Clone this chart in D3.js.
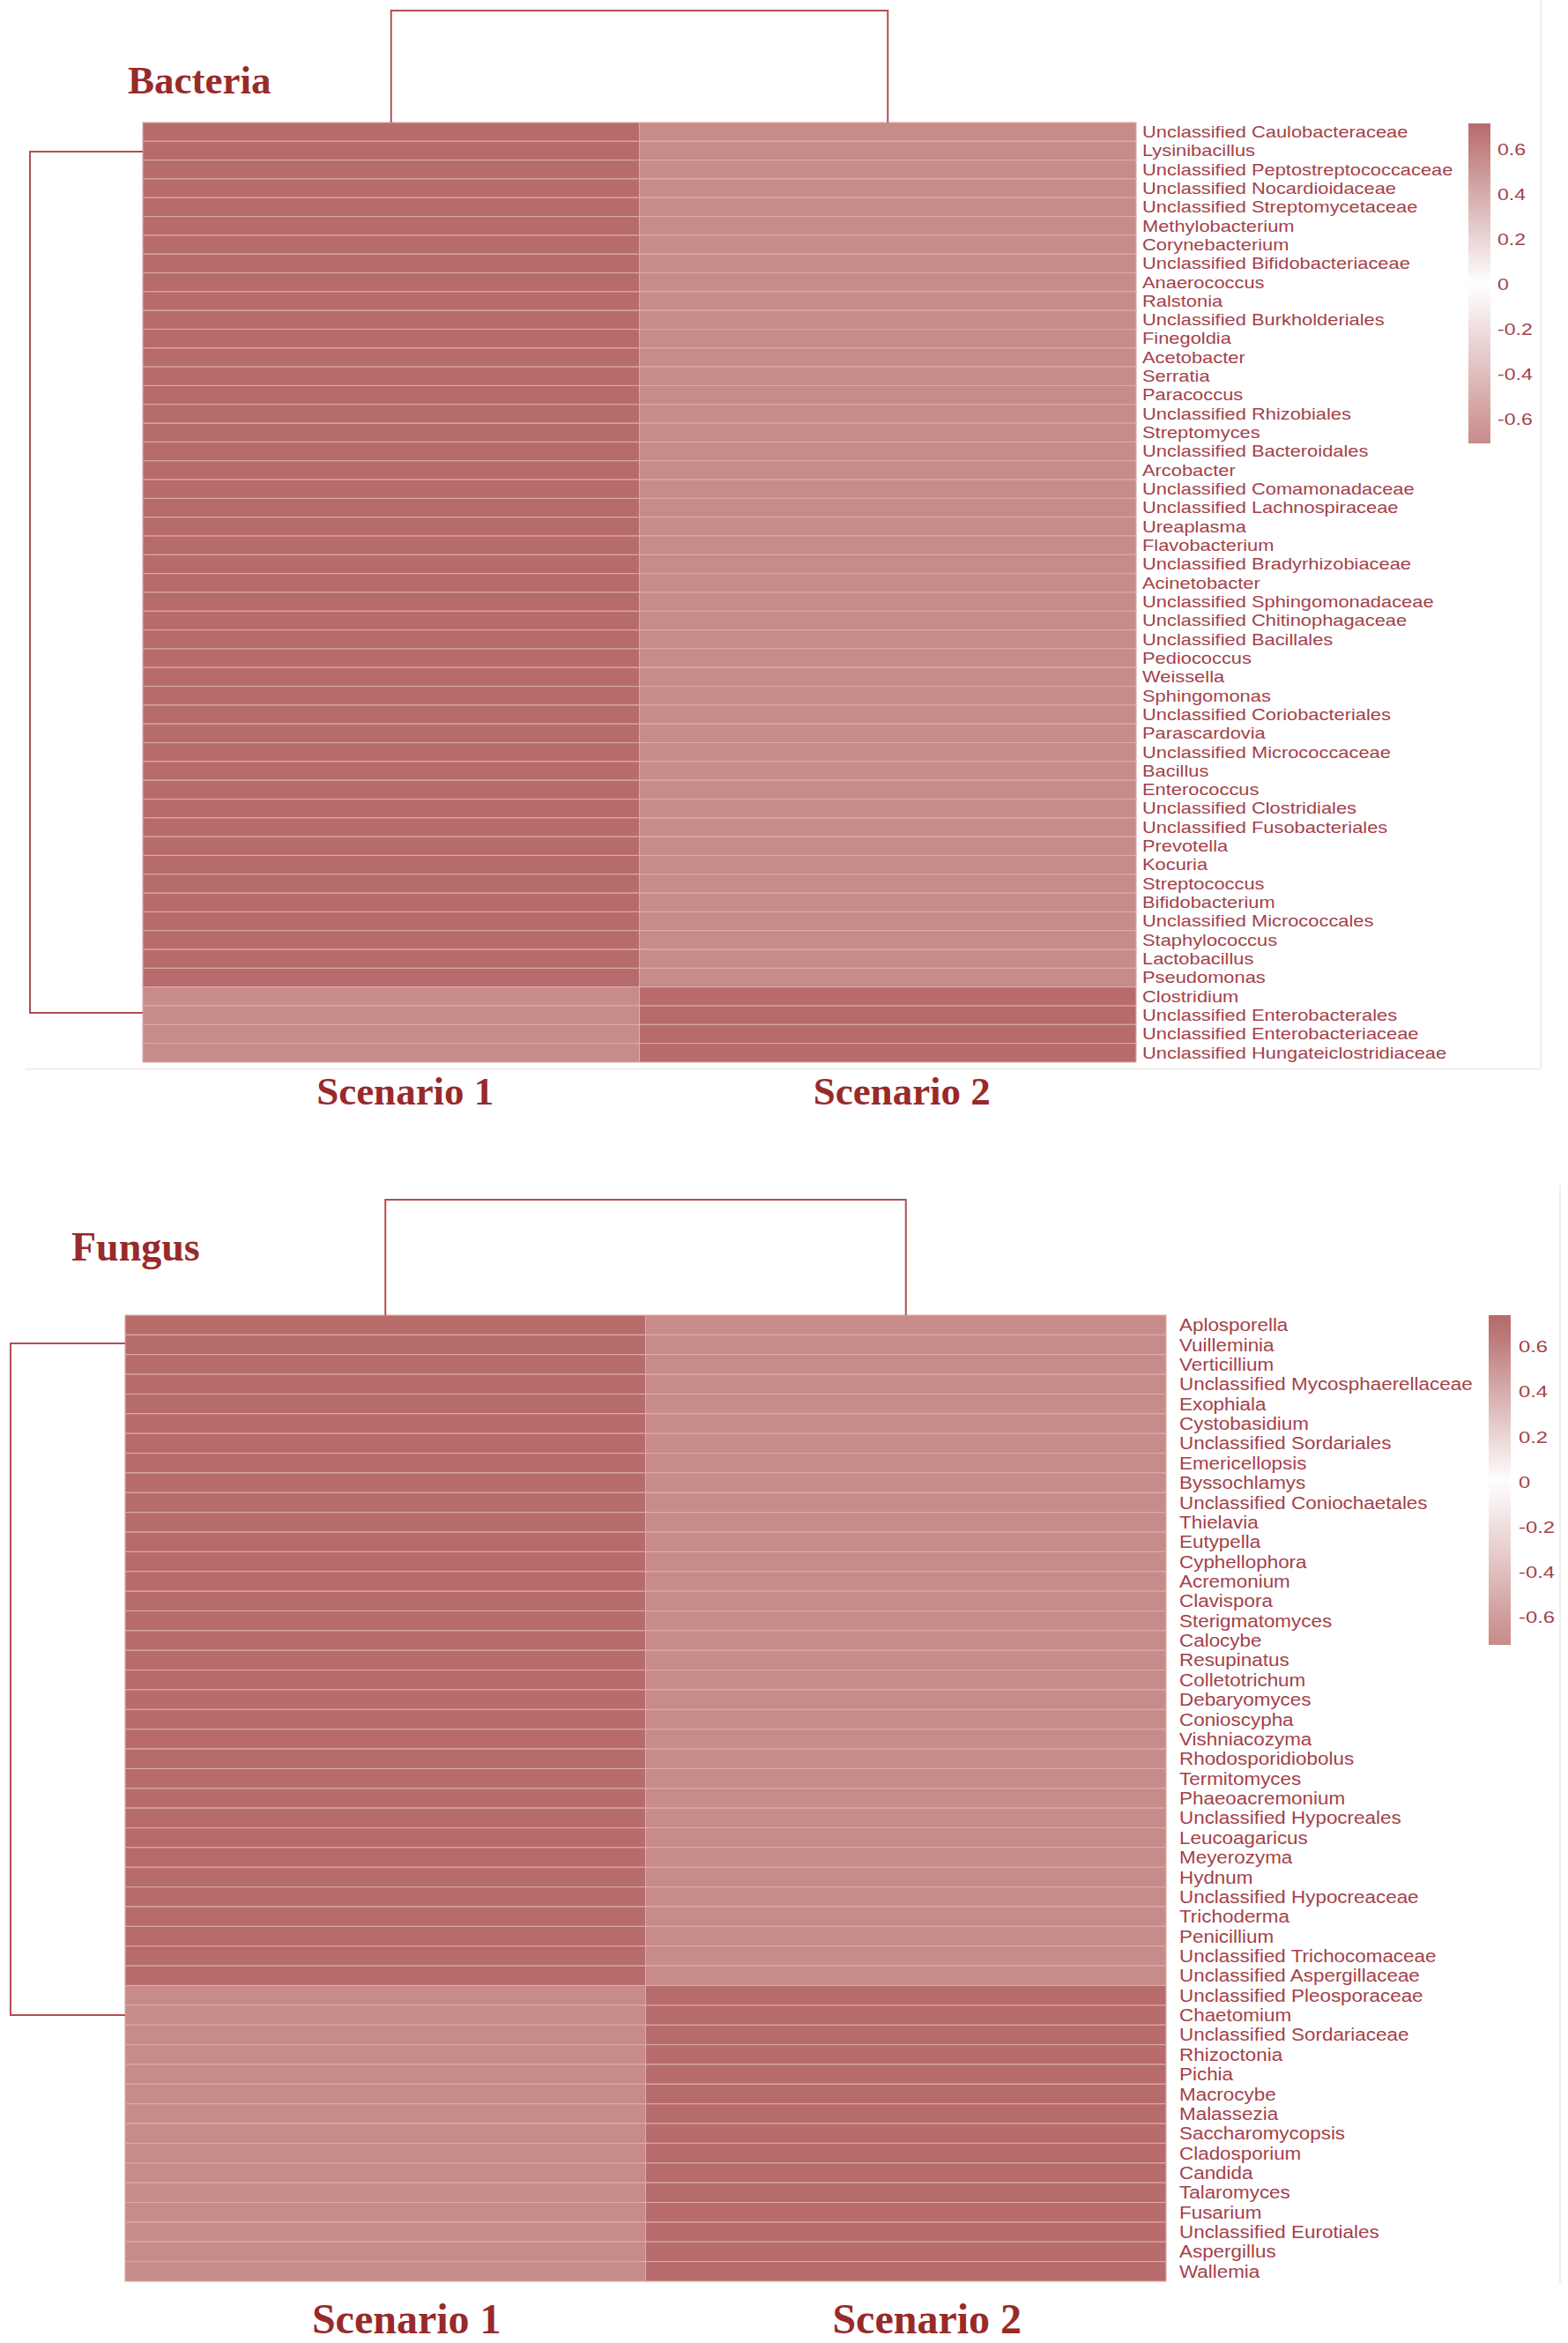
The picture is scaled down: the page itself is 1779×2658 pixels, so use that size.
<!DOCTYPE html>
<html>
<head>
<meta charset="utf-8">
<script src="https://cdn.jsdelivr.net/npm/d3@7/dist/d3.min.js"></script>
<style>
  html, body { margin: 0; padding: 0; background: #ffffff; }
  svg { display: block; }
</style>
</head>
<body>
<svg id="chart" width="1779" height="2658"></svg>
<script>
// ---------------- DATA ----------------
const scenarios = ["Scenario 1", "Scenario 2"];
const legendTicks = [0.6, 0.4, 0.2, 0, -0.2, -0.4, -0.6];
const legendTickLabels = ["0.6", "0.4", "0.2", "0", "-0.2", "-0.4", "-0.6"];

const bacteriaTaxa = [
  "Unclassified Caulobacteraceae", "Lysinibacillus", "Unclassified Peptostreptococcaceae",
  "Unclassified Nocardioidaceae", "Unclassified Streptomycetaceae", "Methylobacterium",
  "Corynebacterium", "Unclassified Bifidobacteriaceae", "Anaerococcus", "Ralstonia",
  "Unclassified Burkholderiales", "Finegoldia", "Acetobacter", "Serratia", "Paracoccus",
  "Unclassified Rhizobiales", "Streptomyces", "Unclassified Bacteroidales", "Arcobacter",
  "Unclassified Comamonadaceae", "Unclassified Lachnospiraceae", "Ureaplasma",
  "Flavobacterium", "Unclassified Bradyrhizobiaceae", "Acinetobacter",
  "Unclassified Sphingomonadaceae", "Unclassified Chitinophagaceae", "Unclassified Bacillales",
  "Pediococcus", "Weissella", "Sphingomonas", "Unclassified Coriobacteriales",
  "Parascardovia", "Unclassified Micrococcaceae", "Bacillus", "Enterococcus",
  "Unclassified Clostridiales", "Unclassified Fusobacteriales", "Prevotella", "Kocuria",
  "Streptococcus", "Bifidobacterium", "Unclassified Micrococcales", "Staphylococcus",
  "Lactobacillus", "Pseudomonas", "Clostridium", "Unclassified Enterobacterales",
  "Unclassified Enterobacteriaceae", "Unclassified Hungateiclostridiaceae"
];
const bacteriaScenario1 = [
  0.71, 0.71, 0.71, 0.71, 0.71, 0.71, 0.71, 0.71, 0.71, 0.71,
  0.71, 0.71, 0.71, 0.71, 0.71, 0.71, 0.71, 0.71, 0.71, 0.71,
  0.71, 0.71, 0.71, 0.71, 0.71, 0.71, 0.71, 0.71, 0.71, 0.71,
  0.71, 0.71, 0.71, 0.71, 0.71, 0.71, 0.71, 0.71, 0.71, 0.71,
  0.71, 0.71, 0.71, 0.71, 0.71, 0.71, -0.71, -0.71, -0.71, -0.71
];
const bacteriaScenario2 = [
  -0.71, -0.71, -0.71, -0.71, -0.71, -0.71, -0.71, -0.71, -0.71, -0.71,
  -0.71, -0.71, -0.71, -0.71, -0.71, -0.71, -0.71, -0.71, -0.71, -0.71,
  -0.71, -0.71, -0.71, -0.71, -0.71, -0.71, -0.71, -0.71, -0.71, -0.71,
  -0.71, -0.71, -0.71, -0.71, -0.71, -0.71, -0.71, -0.71, -0.71, -0.71,
  -0.71, -0.71, -0.71, -0.71, -0.71, -0.71, 0.71, 0.71, 0.71, 0.71
];
// row dendrogram: branch attachment positions (in row units)
const bacteriaRowBranches = [1.55, 47.37];

const fungusTaxa = [
  "Aplosporella", "Vuilleminia", "Verticillium", "Unclassified Mycosphaerellaceae",
  "Exophiala", "Cystobasidium", "Unclassified Sordariales", "Emericellopsis",
  "Byssochlamys", "Unclassified Coniochaetales", "Thielavia", "Eutypella",
  "Cyphellophora", "Acremonium", "Clavispora", "Sterigmatomyces", "Calocybe",
  "Resupinatus", "Colletotrichum", "Debaryomyces", "Conioscypha", "Vishniacozyma",
  "Rhodosporidiobolus", "Termitomyces", "Phaeoacremonium", "Unclassified Hypocreales",
  "Leucoagaricus", "Meyerozyma", "Hydnum", "Unclassified Hypocreaceae", "Trichoderma",
  "Penicillium", "Unclassified Trichocomaceae", "Unclassified Aspergillaceae",
  "Unclassified Pleosporaceae", "Chaetomium", "Unclassified Sordariaceae", "Rhizoctonia",
  "Pichia", "Macrocybe", "Malassezia", "Saccharomycopsis", "Cladosporium", "Candida",
  "Talaromyces", "Fusarium", "Unclassified Eurotiales", "Aspergillus", "Wallemia"
];
const fungusScenario1 = [
  0.71, 0.71, 0.71, 0.71, 0.71, 0.71, 0.71, 0.71, 0.71, 0.71,
  0.71, 0.71, 0.71, 0.71, 0.71, 0.71, 0.71, 0.71, 0.71, 0.71,
  0.71, 0.71, 0.71, 0.71, 0.71, 0.71, 0.71, 0.71, 0.71, 0.71,
  0.71, 0.71, 0.71, 0.71, -0.71, -0.71, -0.71, -0.71, -0.71, -0.71,
  -0.71, -0.71, -0.71, -0.71, -0.71, -0.71, -0.71, -0.71, -0.71
];
const fungusScenario2 = [
  -0.71, -0.71, -0.71, -0.71, -0.71, -0.71, -0.71, -0.71, -0.71, -0.71,
  -0.71, -0.71, -0.71, -0.71, -0.71, -0.71, -0.71, -0.71, -0.71, -0.71,
  -0.71, -0.71, -0.71, -0.71, -0.71, -0.71, -0.71, -0.71, -0.71, -0.71,
  -0.71, -0.71, -0.71, -0.71, 0.71, 0.71, 0.71, 0.71, 0.71, 0.71,
  0.71, 0.71, 0.71, 0.71, 0.71, 0.71, 0.71, 0.71, 0.71
];
const fungusRowBranches = [1.43, 35.5];

// ---------------- STYLE / LAYOUT ----------------
const HIGH = "#b76b6b", LOW = "#c78b8a", MID = "#ffffff";
const LINE = "#b24f52", TITLE = "#982a2a", LABEL = "#a4414a";

const panels = [
  {
    title: "Bacteria", taxa: bacteriaTaxa, values: [bacteriaScenario1, bacteriaScenario2],
    branches: bacteriaRowBranches,
    left: 162, right: 1289, top: 139, bottom: 1205,
    colDendroTop: 12, rowDendroX: 34,
    titleX: 145, titleY: 106, titleSize: 45,
    labelX: 1296, labelSize: 17.5, labelScale: 1.25,
    legX: 1666, legW: 25, legY0: 140, legY1: 503, legTop: 0.714, legBot: -0.71,
    tickX: 1699, tickSize: 18.6, tickScale: 1.24,
    scenY: 1253, scenSize: 45, scenOffset: 16,
    frame: { x0: 29, x1: 1748, y0: 0, y1: 1213 }
  },
  {
    title: "Fungus", taxa: fungusTaxa, values: [fungusScenario1, fungusScenario2],
    branches: fungusRowBranches,
    left: 142, right: 1323, top: 1492, bottom: 2588,
    colDendroTop: 1361, rowDendroX: 12,
    titleX: 81, titleY: 1430, titleSize: 46,
    labelX: 1338, labelSize: 19.5, labelScale: 1.15,
    legX: 1689, legW: 25, legY0: 1492, legY1: 1866, legTop: 0.739, legBot: -0.723,
    tickX: 1723, tickSize: 18.6, tickScale: 1.28,
    scenY: 2647, scenSize: 48, scenOffset: 24,
    frame: { x0: null, x1: 1770, y0: 1345, y1: 2590 }
  }
];

const svg = d3.select("#chart");
const color = d3.scaleLinear().domain([-0.71, 0, 0.71]).range([LOW, MID, HIGH]).clamp(true);

panels.forEach((p, pi) => {
  const g = svg.append("g");
  const n = p.taxa.length;

  // faint panel frame
  if (p.frame) {
    g.append("line").attr("x1", p.frame.x1).attr("x2", p.frame.x1)
      .attr("y1", p.frame.y0).attr("y2", p.frame.y1)
      .attr("stroke", "#f2e6e6").attr("stroke-width", 1.5);
    if (p.frame.x0 !== null) {
      g.append("line").attr("x1", p.frame.x0).attr("x2", p.frame.x1)
        .attr("y1", p.frame.y1).attr("y2", p.frame.y1)
        .attr("stroke", "#f2e6e6").attr("stroke-width", 1.5);
    }
  }

  const x = d3.scaleBand().domain(scenarios).range([p.left, p.right]);
  const y = d3.scaleBand().domain(p.taxa).range([p.top, p.bottom]);
  const yRow = d3.scaleLinear().domain([0, n]).range([p.top, p.bottom]);

  // cells
  const cells = [];
  p.taxa.forEach((t, i) => scenarios.forEach((s, j) => cells.push({ taxon: t, scen: s, v: p.values[j][i] })));
  g.append("g").selectAll("rect").data(cells).join("rect")
    .attr("x", d => x(d.scen)).attr("y", d => y(d.taxon))
    .attr("width", x.bandwidth()).attr("height", y.bandwidth())
    .attr("fill", d => color(d.v))
    .attr("stroke", "#dcaaaa").attr("stroke-width", 1.1);

  // column dendrogram
  const colH = d3.scaleLinear().domain([0, 1]).range([p.top, p.colDendroTop]);
  const cx = scenarios.map(s => x(s) + x.bandwidth() / 2);
  const colPath = d3.path();
  colPath.moveTo(cx[0], colH(0)); colPath.lineTo(cx[0], colH(1));
  colPath.lineTo(cx[1], colH(1)); colPath.lineTo(cx[1], colH(0));
  g.append("path").attr("d", colPath.toString()).attr("fill", "none")
    .attr("stroke", LINE).attr("stroke-width", 2);

  // row dendrogram
  const rowH = d3.scaleLinear().domain([0, 1]).range([p.left, p.rowDendroX]);
  const ry = p.branches.map(b => yRow(b));
  const rowPath = d3.path();
  rowPath.moveTo(rowH(0), ry[0]); rowPath.lineTo(rowH(1), ry[0]);
  rowPath.lineTo(rowH(1), ry[1]); rowPath.lineTo(rowH(0), ry[1]);
  g.append("path").attr("d", rowPath.toString()).attr("fill", "none")
    .attr("stroke", LINE).attr("stroke-width", 2);

  // row labels
  g.append("g").selectAll("text").data(p.taxa).join("text")
    .attr("transform", d => `translate(${p.labelX},${y(d) + y.bandwidth() / 2}) scale(${p.labelScale},1)`)
    .attr("dy", "0.36em")
    .attr("font-family", "'Liberation Sans', Arial, Helvetica, sans-serif")
    .attr("font-size", p.labelSize)
    .attr("fill", LABEL)
    .text(d => d);

  // title
  g.append("text").attr("x", p.titleX).attr("y", p.titleY)
    .attr("font-family", "'Liberation Serif', 'Times New Roman', serif")
    .attr("font-weight", "bold").attr("font-size", p.titleSize)
    .attr("fill", TITLE).text(p.title);

  // scenario labels
  g.append("g").selectAll("text").data(scenarios).join("text")
    .attr("x", d => x(d) + x.bandwidth() / 2 + p.scenOffset)
    .attr("y", p.scenY)
    .attr("text-anchor", "middle")
    .attr("font-family", "'Liberation Serif', 'Times New Roman', serif")
    .attr("font-weight", "bold").attr("font-size", p.scenSize)
    .attr("fill", TITLE)
    .text(d => d);

  // legend
  const gradId = "grad" + pi;
  const legScale = d3.scaleLinear().domain([p.legTop, p.legBot]).range([p.legY0, p.legY1]);
  const grad = svg.append("defs").append("linearGradient").attr("id", gradId)
    .attr("x1", 0).attr("x2", 0).attr("y1", 0).attr("y2", 1);
  const stops = d3.range(0, 21).map(k => k / 20);
  grad.selectAll("stop").data(stops).join("stop")
    .attr("offset", d => d)
    .attr("stop-color", d => color(p.legTop + (p.legBot - p.legTop) * d));
  g.append("rect").attr("x", p.legX).attr("y", p.legY0)
    .attr("width", p.legW).attr("height", p.legY1 - p.legY0)
    .attr("fill", `url(#${gradId})`);
  g.append("g").selectAll("text").data(legendTicks).join("text")
    .attr("transform", d => `translate(${p.tickX},${legScale(d)}) scale(${p.tickScale},1)`)
    .attr("dy", "0.36em")
    .attr("font-family", "'Liberation Sans', Arial, Helvetica, sans-serif")
    .attr("font-size", p.tickSize)
    .attr("fill", LABEL)
    .text((d, i) => legendTickLabels[i]);
});
</script>
</body>
</html>
